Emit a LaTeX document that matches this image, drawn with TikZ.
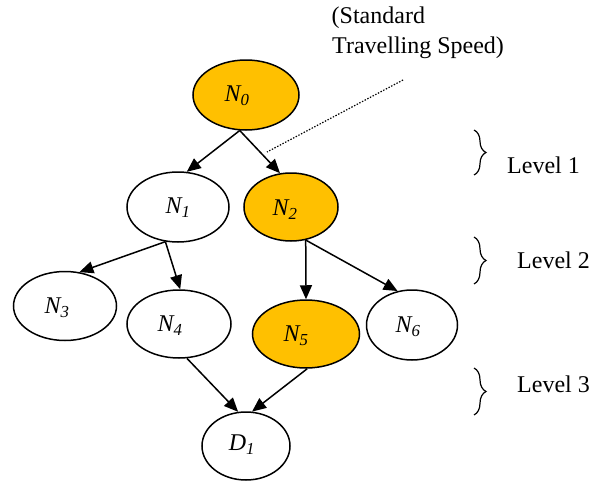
\documentclass[tikz,border=0pt]{standalone}
\usepackage{fontspec}
\setmainfont{Liberation Serif}
\usetikzlibrary{arrows.meta,decorations.pathreplacing,shapes.geometric}
\definecolor{gold}{RGB}{255,192,0}
\begin{document}
\begin{tikzpicture}[x=1pt,y=-1pt,
  nd/.style={ellipse,draw,line width=1.5pt,inner sep=0pt},
  hot/.style={nd,fill=gold},
  cold/.style={nd,fill=white},
  lbl/.style={font=\fontsize{24}{30}\selectfont\itshape,inner sep=0pt},
  txt/.style={font=\fontsize{24}{30}\selectfont,inner sep=0pt},
  edge/.style={line width=1.5pt,-{Triangle[length=14pt,width=12pt]}},
  lvl/.style={line width=1.2pt,decorate,decoration={brace,amplitude=12pt}},
  dots/.style={line width=1.2pt,dash pattern=on 1.4pt off 1.6pt}]
\useasboundingbox (0,0) rectangle (598,482);

% nodes
\node[hot,minimum width=106pt,minimum height=70pt,
  label={[lbl,xshift=-9pt,yshift=-1pt]center:N\textsubscript{0}}] (n0) at (246,95) {};
\node[cold,minimum width=102pt,minimum height=70pt,
  label={[lbl,xshift=0pt,yshift=-1pt]center:N\textsubscript{1}}] (n1) at (178,207) {};
\node[hot,minimum width=94pt,minimum height=68pt,
  label={[lbl,xshift=-6pt,yshift=-3pt]center:N\textsubscript{2}}] (n2) at (291,207) {};
\node[cold,minimum width=103pt,minimum height=69pt,
  label={[lbl,xshift=-8pt,yshift=-2pt]center:N\textsubscript{3}}] (n3) at (65,306) {};
\node[cold,minimum width=104pt,minimum height=68pt,
  label={[lbl,xshift=-9pt,yshift=-2pt]center:N\textsubscript{4}}] (n4) at (179,324) {};
\node[hot,minimum width=107pt,minimum height=68pt,
  label={[lbl,xshift=-10pt,yshift=-2pt]center:N\textsubscript{5}}] (n5) at (306,334) {};
\node[cold,minimum width=91pt,minimum height=70pt,
  label={[lbl,xshift=-4pt,yshift=-2pt]center:N\textsubscript{6}}] (n6) at (412,325) {};
\node[cold,minimum width=88pt,minimum height=68pt,
  label={[lbl,xshift=-4pt,yshift=1pt]center:D\textsubscript{1}}] (d1) at (246,446) {};

% connectors
\draw[edge] (n0.260) -- (n1.76);
\draw[edge] (n0.260) -- (n2.108);
\draw[edge] (n1.250) -- (n3.67);
\draw[edge] (n1.250) -- (n4.88);
\draw[edge] (n2.294) -- (n5.north);
\draw[edge] (n2.294) -- (n6.113);
\draw[edge] (n4.283) -- (d1.103);
\draw[edge] (n5.272) -- (d1.80);

% annotation
\node[txt,anchor=base west] (std1) at (331.5,23) {(Standard};
\node[txt,anchor=base west] (std2) at (332,53) {Travelling Speed)};
\coordinate (dA) at (403,80);
\coordinate (dB) at (267,152);
\draw[dots] (dA) -- (dB);

% levels
\coordinate (b1t) at (474,130); \coordinate (b1b) at (474,175);
\coordinate (b2t) at (474,237); \coordinate (b2b) at (474,284);
\coordinate (b3t) at (474,368); \coordinate (b3b) at (474,415);
\draw[lvl] (b1t) -- (b1b);
\draw[lvl] (b2t) -- (b2b);
\draw[lvl] (b3t) -- (b3b);
\node[txt,anchor=west] (l1) at (507,165) {Level 1};
\node[txt,anchor=west] (l2) at (517,260) {Level 2};
\node[txt,anchor=west] (l3) at (517,384) {Level 3};
\end{tikzpicture}
\end{document}
